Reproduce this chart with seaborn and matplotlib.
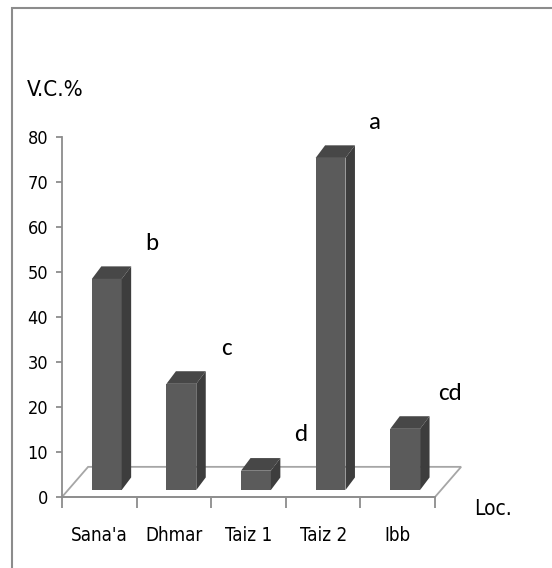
import pandas as pd
import seaborn as sns
import matplotlib.pyplot as plt
from matplotlib import font_manager as fm
from matplotlib.patches import Polygon, Rectangle

# data
locations = ["Sana'a", "Dhmar", "Taiz 1", "Taiz 2", "Ibb"]
vc_percent = [46.9, 23.6, 4.3, 73.8, 13.6]
groups = ["b", "c", "d", "a", "cd"]
y_ticks = [0, 10, 20, 30, 40, 50, 60, 70, 80]

sns.set_style("white")

# narrow font like the excel original, if one is there
fonts = [(f.name, f.stretch) for f in fm.fontManager.ttflist]
names = {n for n, _ in fonts}
stretch = "normal"
if "Liberation Sans Narrow" in names:
    family = "Liberation Sans Narrow"
elif ("DejaVu Sans", "condensed") in fonts or ("DejaVu Sans", 75) in fonts:
    family, stretch = "DejaVu Sans", "condensed"
else:
    family = "Liberation Sans"
letter_font = next((n for n in ["Carlito", "Lato", "Open Sans"] if n in names), "DejaVu Sans")

plt.rcParams["font.family"] = [family, "DejaVu Sans"]
plt.rcParams["font.stretch"] = stretch
plt.rcParams["text.color"] = "black"
plt.rcParams["xtick.color"] = "black"
plt.rcParams["ytick.color"] = "black"

df = pd.DataFrame({"Loc": locations, "VC": vc_percent})

fig = plt.figure(figsize=(5.52, 5.68), dpi=100)
ax = fig.add_axes([62 / 552, 71 / 568, 373 / 552, 360 / 568])

# fake 3d look (excel style)
lift = 1.55          # bars stand a bit behind the front edge of the floor
shift = 0.1
dx, dy = 0.127, 2.8  # depth of a bar
fdx, fdy = 0.35, 6.7 # depth of the floor
front = "#5b5b5b"
top_c = "#474747"
side_c = "#3d3d3d"
grey = "#8c8c8c"

sns.barplot(data=df, x="Loc", y="VC", color=front, width=0.4, saturation=1,
            bottom=lift, ax=ax, zorder=3, linewidth=0)

ax.set_xlim(-0.5, 4.5)
ax.set_ylim(0, 80)

# floor
floor = Polygon([(-0.5, 0), (-0.5 + fdx, fdy), (4.5 + fdx, fdy), (4.5, 0)],
                closed=True, fill=False, ec="#a6a6a6", lw=1.3, clip_on=False, zorder=1)
ax.add_patch(floor)

for p in list(ax.patches):
    if p is floor:
        continue
    p.set_x(p.get_x() + shift)
    x0 = p.get_x()
    x1 = x0 + p.get_width()
    y0 = p.get_y()
    y1 = y0 + p.get_height()
    ax.add_patch(Polygon([(x0, y1), (x1, y1), (x1 + dx, y1 + dy), (x0 + dx, y1 + dy)],
                         fc=top_c, ec="none", zorder=3, clip_on=False))
    ax.add_patch(Polygon([(x1, y0), (x1, y1), (x1 + dx, y1 + dy), (x1 + dx, y0 + dy)],
                         fc=side_c, ec="none", zorder=3, clip_on=False))

# significance letters
for i, (v, g) in enumerate(zip(vc_percent, groups)):
    ax.text(i + 0.7, v + 9.5, g, ha="center", va="center", fontsize=18,
            family=[letter_font, "DejaVu Sans"], fontstretch="normal", color="black")

# axes
for s in ["top", "right"]:
    ax.spines[s].set_visible(False)
for s in ["left", "bottom"]:
    ax.spines[s].set_color(grey)
    ax.spines[s].set_linewidth(1.3)

ax.set_yticks(y_ticks)
ax.tick_params(axis="y", direction="out", length=4, width=1.3, color=grey,
               labelcolor="black", labelsize=13, pad=6, left=True)
ax.set_xticks([-0.5, 0.5, 1.5, 2.5, 3.5, 4.5])
ax.set_xticklabels([])
ax.set_xticks(range(len(locations)), minor=True)
ax.set_xticklabels(locations, minor=True)
ax.tick_params(axis="x", which="major", direction="out", length=8, width=1.3,
               color=grey, bottom=True)
ax.tick_params(axis="x", which="minor", length=0, labelsize=13.5, pad=21,
               labelcolor="black")
ax.set_xlabel("")
ax.set_ylabel("")

fig.text(27 / 552, 1 - 90 / 568, "V.C.%", ha="left", va="center", fontsize=16)
fig.text(474 / 552, 1 - 509 / 568, "Loc.", ha="left", va="center", fontsize=15)

# chart border
fig.patches.append(Rectangle((12 / 552, -0.05), 1.2, 1 - 8 / 568 + 0.05, fill=False,
                             ec=grey, lw=1.5, transform=fig.transFigure))

fig.savefig("out.png", dpi=100)
